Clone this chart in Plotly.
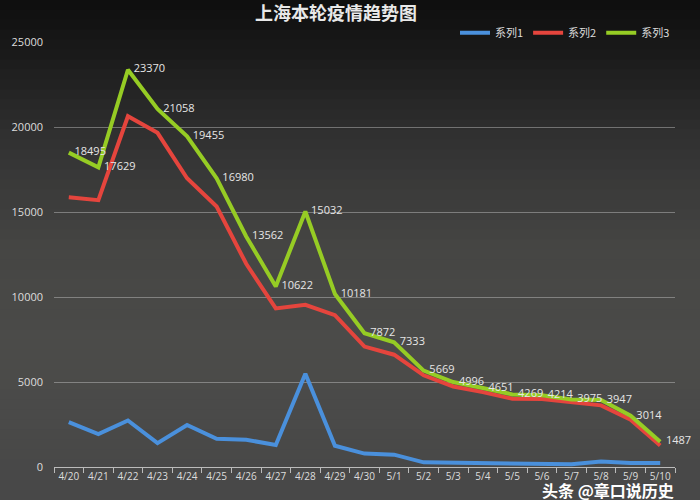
import plotly.graph_objects as go

dates = ["4/20", "4/21", "4/22", "4/23", "4/24", "4/25", "4/26", "4/27", "4/28", "4/29",
         "4/30", "5/1", "5/2", "5/3", "5/4", "5/5", "5/6", "5/7", "5/8", "5/9", "5/10"]
series1 = [2634, 1931, 2736, 1401, 2472, 1661, 1606, 1292, 5487, 1249,
           788, 727, 274, 260, 245, 253, 215, 166, 322, 234, 228]
series2 = [15861, 15698, 20634, 19657, 16983, 15319, 11956, 9330, 9545, 8932,
           7084, 6606, 5395, 4736, 4406, 4016, 3999, 3809, 3625, 2780, 1259]
series3 = [18495, 17629, 23370, 21058, 19455, 16980, 13562, 10622, 15032, 10181,
           7872, 7333, 5669, 4996, 4651, 4269, 4214, 3975, 3947, 3014, 1487]
names = ["系列1", "系列2", "系列3"]
colors = ["#4a90dc", "#e5453d", "#96cc24"]
yticks = [0, 5000, 10000, 15000, 20000, 25000]
title_text = "上海本轮疫情趋势图"
watermark = "头条 @章口说历史"

W, H = 700, 500
L, R, T, B = 54, 25, 42, 33

fig = go.Figure()
for name, vals, col in zip(names, [series1, series2, series3], colors):
    fig.add_trace(go.Scatter(
        x=dates, y=vals, name=name, mode="lines",
        line=dict(color=col, width=4),
    ))
# data labels for series 3
fig.add_trace(go.Scatter(
    x=dates, y=series3, mode="text", text=["  " + str(v) for v in series3],
    textposition="middle right", showlegend=False, hoverinfo="skip", cliponaxis=False,
    textfont=dict(color="#e6e6e6", size=11, family="Open Sans, DejaVu Sans"),
))

# background gradient bands (full figure, paper coords)
stops = [(0, (14, 14, 14)), (60, (28, 28, 28)), (150, (52, 52, 52)),
         (250, (70, 70, 68)), (350, (76, 76, 74)), (500, (72, 72, 72))]
shapes = []
nb = 50
ph = H - T - B
for i in range(nb):
    y0 = H * i / nb
    y1 = H * (i + 1) / nb
    ym = (y0 + y1) / 2
    for j in range(len(stops) - 1):
        if stops[j][0] <= ym <= stops[j + 1][0]:
            f = (ym - stops[j][0]) / (stops[j + 1][0] - stops[j][0])
            c = [int(stops[j][1][k] + f * (stops[j + 1][1][k] - stops[j][1][k])) for k in range(3)]
            break
    py0 = 1 - (y0 - T) / ph
    py1 = 1 - (y1 - T) / ph
    shapes.append(dict(type="rect", xref="paper", yref="paper",
                       x0=-L / (W - L - R) - 0.01, x1=1 + R / (W - L - R) + 0.01,
                       y0=py1 - 0.002, y1=py0 + 0.002, line=dict(width=0),
                       fillcolor="rgb(%d,%d,%d)" % tuple(c), layer="below"))

fig.update_layout(
    width=W, height=H,
    margin=dict(l=L, r=R, t=T, b=B),
    paper_bgcolor="#333333",
    plot_bgcolor="rgba(0,0,0,0)",
    shapes=shapes,
    title=dict(text="<b>" + title_text + "</b>", x=0.48, xanchor="center", y=0.985, yanchor="top",
               font=dict(size=18, color="#e8e8e8", family="Noto Sans CJK SC")),
    legend=dict(orientation="h", x=1.0, xanchor="right", y=1.022, yanchor="middle",
                font=dict(size=11, color="#dddddd", family="Noto Sans CJK SC"),
                bgcolor="rgba(0,0,0,0)", itemwidth=30, tracegroupgap=0),
    showlegend=True,
    annotations=[dict(text="<b>" + watermark + "</b>", xref="paper", yref="paper",
                      x=(540 - L) / (W - L - R), y=-(490 - 467) / ph, xanchor="left", yanchor="middle",
                      showarrow=False, font=dict(size=16, color="#ffffff", family="Noto Sans CJK SC"))],
)
fig.update_xaxes(
    showgrid=False, showline=True, linecolor="#bbbbbb", linewidth=1,
    ticks="outside", tickson="boundaries", ticklen=5, tickcolor="#bbbbbb",
    tickangle=0,
    tickfont=dict(size=10, color="#dddddd", family="Open Sans, DejaVu Sans"),
    range=[-0.5, len(dates) - 0.5], fixedrange=True,
)
fig.update_yaxes(
    range=[0, 25000], tickvals=yticks, ticktext=[str(v) for v in yticks],
    showgrid=True, gridcolor="rgba(200,200,200,0.45)", gridwidth=1,
    zeroline=False, showline=False, ticks="", ticklabelstandoff=10,
    tickfont=dict(size=11, color="#dddddd", family="Open Sans, DejaVu Sans"),
)

fig.write_html("out.html")
